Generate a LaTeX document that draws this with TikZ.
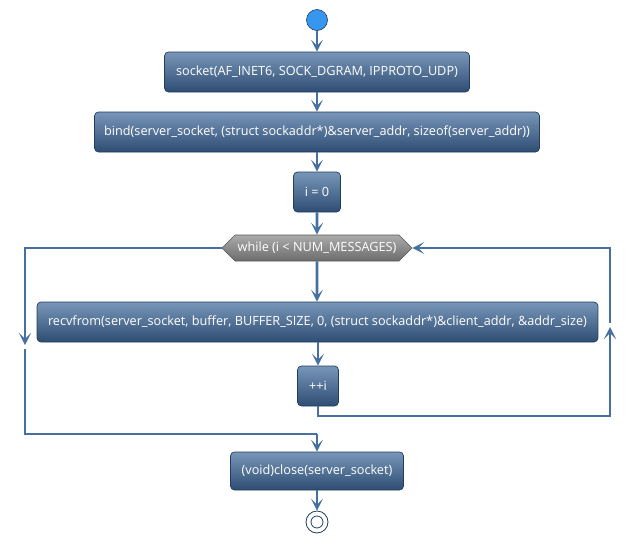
\documentclass[tikz,border=0pt]{standalone}
\usepackage{fontspec}
\setmainfont{Open Sans}
\usetikzlibrary{arrows.meta,shapes.symbols}
\definecolor{boxtop}{HTML}{7896B8}
\definecolor{boxbot}{HTML}{2E4D73}
\definecolor{boxdraw}{HTML}{223D5E}
\definecolor{flowc}{HTML}{4670A0}
\definecolor{startc}{HTML}{3796EE}
\definecolor{hextop}{HTML}{ABABAB}
\definecolor{hexbot}{HTML}{6C6C6C}
\tikzset{
  actbox/.style={draw=boxdraw, line width=0.7pt, rounded corners=4pt, top color=boxtop, bottom color=boxbot,
    text=white, font=\fontsize{12.7}{15}\selectfont, minimum height=40pt, inner xsep=0pt, anchor=center},
  flow/.style={draw=flowc, line width=2.6pt, -{Stealth[length=12pt,width=12pt,inset=6pt]}},
  plain/.style={draw=flowc, line width=2.6pt},
  hexnode/.style={shape=signal, signal to=west and east, signal pointer angle=90, draw=hexbot!80!black, line width=0.6pt,
    top color=hextop, bottom color=hexbot, text=white, font=\fontsize{12.7}{15}\selectfont, minimum height=26pt, minimum width=190pt, inner xsep=0pt, inner ysep=0pt}
}
\begin{document}
\begin{tikzpicture}[x=1pt,y=-1pt]
\useasboundingbox (0,0) rectangle (635,544);
\node[circle, fill=startc, draw=boxdraw, line width=0.6pt, minimum size=21pt, inner sep=0pt] (start) at (317,20) {};
\node[actbox, minimum width=305pt] (b1) at (317,72) {socket(AF\_INET6, SOCK\_DGRAM, IPPROTO\_UDP)};
\node[actbox, minimum width=445pt] (b2) at (317,132) {bind(server\_socket, (struct sockaddr*)\&server\_addr, sizeof(server\_addr))};
\node[actbox, minimum width=47pt] (b3) at (317,192) {i = 0};
\node[hexnode] (hex) at (317,248) {while (i < NUM\_MESSAGES)};
\node[actbox, minimum width=561pt] (b4) at (317.5,322) {recvfrom(server\_socket, buffer, BUFFER\_SIZE, 0, (struct sockaddr*)\&client\_addr, \&addr\_size)};
\node[actbox, minimum width=41pt] (b5) at (318,386) {++i};
\node[actbox, minimum width=173pt, minimum height=38pt] (b6) at (317,471) {(void)close(server\_socket)};
\node[circle, draw=boxdraw, line width=0.8pt, minimum size=22pt, inner sep=0pt] (end) at (317,522) {};
\node[circle, draw=boxdraw, fill=white, line width=0.8pt, minimum size=12pt, inner sep=0pt] (endin) at (317,522) {};

\coordinate (rb) at (610,416);
\coordinate (rm) at (610,327);
\coordinate (lm) at (25,345);
\coordinate (lb) at (25,434);
\coordinate (jn) at (317,434);

\draw[flow] (start) -- (b1);
\draw[flow] (b1) -- (b2);
\draw[flow] (b2) -- (b3);
\draw[flow] (b3) -- (hex);
\draw[flow] (hex) -- (hex |- b4.north);
\draw[flow] (b5 |- b4.south) -- (b5);
\draw[flow] (b5.south) |- (rb) -- (rm);
\draw[flow] ([yshift=4pt]rm) |- (hex.east);
\draw[flow] (hex.west) -| (lm);
\draw[plain] ([yshift=-4pt]lm) -- (lb) -- (jn);
\draw[flow] (jn) -- (b6);
\draw[flow] (b6) -- (end);
\end{tikzpicture}
\end{document}
